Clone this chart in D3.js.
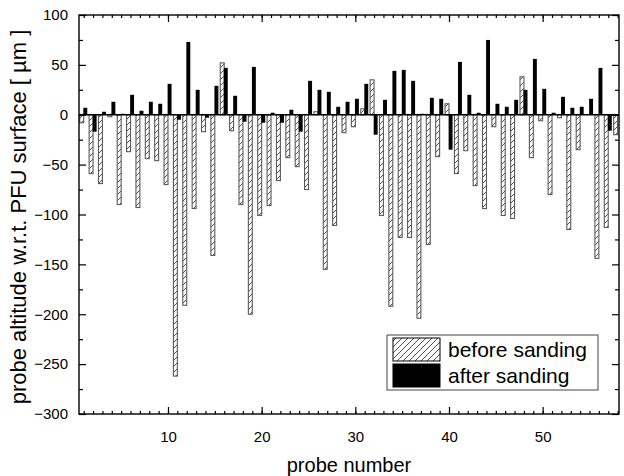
<!DOCTYPE html>
<html>
<head>
<meta charset="utf-8">
<script src="https://cdn.jsdelivr.net/npm/d3@7"></script>
<style>
  body { margin: 0; background: #fff; }
  svg { display: block; font-family: "Liberation Sans", Arial, sans-serif; }
  .tick text { font-size: 15px; fill: #000; }
  .axis line { stroke: #000; stroke-width: 1.2; }
</style>
</head>
<body>
<svg id="chart" width="624" height="476"></svg>
<script>
// probe altitude before / after sanding, probes 1..58 (null = no bar)
const beforeSanding = [-8, -59, -69, -2, -90, -37, -93, -44, -46, -70, -262, -191, -94, -17, -141, 52,
  -16, -90, -200, -101, -91, -66, -43, -52, -75, 3, -155, -111, -18, -12, 6, 35, -101, -192, -123,
  -123, -204, -130, -42, 11, -59, -36, -71, -94, -12, -101, -104, 38, -43, -6, -80, -3, -115, -35,
  null, -144, -113, -20];
const afterSanding = [7, -17, 3, 13, 1, 20, 4, 13, 11, 31, -5, 73, 25, -3, 29, 47, 19, -7, 48, -8, 2,
  -8, 5, -17, 34, 25, 23, 8, 13, 16, 31, -20, 15, 44, 45, 34, 1, 17, 16, -35, 53, 20, 2, 75, 11, 8,
  15, 25, 56, 26, 2, 18, 7, 8, 16, 47, -16, null];
const xTicks = [10, 20, 30, 40, 50];
const yTicks = [-300, -250, -200, -150, -100, -50, 0, 50, 100];
const yMinorTicks = [-275, -225, -175, -125, -75, -25, 25, 75];
const legendLabels = ["before sanding", "after sanding"];

const svg = d3.select("#chart");
const plotLeft = 79, plotRight = 619, plotTop = 15, plotBottom = 414;

const x = d3.scaleLinear().domain([0.5, 58.15]).range([plotLeft, plotRight]);
const y = d3.scaleLinear().domain([-300, 100]).range([plotBottom, plotTop]);
const step = x(2) - x(1);
const barW = step * 0.42;

const defs = svg.append("defs");
const hatch = defs.append("pattern")
  .attr("id", "hatch")
  .attr("patternUnits", "userSpaceOnUse")
  .attr("width", 6)
  .attr("height", 6);
hatch.append("rect").attr("width", 6).attr("height", 6).attr("fill", "#fff");
hatch.append("path")
  .attr("d", "M-1,1 L1,-1 M0,6 L6,0 M5,7 L7,5")
  .attr("stroke", "#222")
  .attr("stroke-width", 0.8);

const probes = beforeSanding.map((v, i) => ({ probe: i + 1, before: v, after: afterSanding[i] }));

// hatched bars (before)
svg.append("g")
  .selectAll("rect")
  .data(probes.filter((d) => d.before !== null))
  .join("rect")
  .attr("x", (d) => x(d.probe) - barW)
  .attr("width", barW)
  .attr("y", (d) => y(Math.max(0, d.before)))
  .attr("height", (d) => Math.abs(y(d.before) - y(0)))
  .attr("fill", "url(#hatch)")
  .attr("stroke", "#5a5a5a")
  .attr("stroke-width", 1.1);

// black bars (after)
svg.append("g")
  .selectAll("rect")
  .data(probes.filter((d) => d.after !== null))
  .join("rect")
  .attr("x", (d) => x(d.probe) - step * 0.04)
  .attr("width", barW)
  .attr("y", (d) => y(Math.max(0, d.after)))
  .attr("height", (d) => Math.abs(y(d.after) - y(0)))
  .attr("fill", "#000");

// zero line
svg.append("line")
  .attr("x1", plotLeft).attr("x2", plotRight)
  .attr("y1", y(0)).attr("y2", y(0))
  .attr("stroke", "#000")
  .attr("stroke-width", 1.3);

// axes, ticks pointing inward
const xMinor = d3.range(1, 59);
function addAxis(axis, transform, labels) {
  const g = svg.append("g").attr("class", "axis").attr("transform", transform).call(axis);
  g.select(".domain").remove();
  if (!labels) g.selectAll("text").remove();
  return g;
}
addAxis(d3.axisBottom(x).tickValues(xMinor).tickSizeInner(-3).tickSizeOuter(0), `translate(0,${plotBottom})`, false);
addAxis(d3.axisBottom(x).tickValues(xTicks).tickSizeInner(-7).tickSizeOuter(0).tickPadding(17), `translate(0,${plotBottom})`, true);
addAxis(d3.axisTop(x).tickValues(xMinor).tickSizeInner(-3).tickSizeOuter(0), `translate(0,${plotTop})`, false);
addAxis(d3.axisTop(x).tickValues(xTicks).tickSizeInner(-7).tickSizeOuter(0), `translate(0,${plotTop})`, false);
addAxis(d3.axisLeft(y).tickValues(yTicks).tickSizeInner(-7).tickSizeOuter(0).tickPadding(11), `translate(${plotLeft},0)`, true);
addAxis(d3.axisLeft(y).tickValues(yMinorTicks).tickSizeInner(-4).tickSizeOuter(0), `translate(${plotLeft},0)`, false);
addAxis(d3.axisRight(y).tickValues(yTicks).tickSizeInner(-7).tickSizeOuter(0), `translate(${plotRight},0)`, false);
addAxis(d3.axisRight(y).tickValues(yMinorTicks).tickSizeInner(-4).tickSizeOuter(0), `translate(${plotRight},0)`, false);

svg.append("rect")
  .attr("x", plotLeft).attr("y", plotTop)
  .attr("width", plotRight - plotLeft).attr("height", plotBottom - plotTop)
  .attr("fill", "none")
  .attr("stroke", "#000")
  .attr("stroke-width", 1.4);

// axis titles
svg.append("text")
  .attr("x", (plotLeft + plotRight) / 2)
  .attr("y", 472)
  .attr("text-anchor", "middle")
  .attr("font-size", 20)
  .text("probe number");

svg.append("text")
  .attr("transform", "translate(26,217) rotate(-90)")
  .attr("text-anchor", "middle")
  .attr("font-size", 22)
  .text("probe altitude w.r.t. PFU surface [ µm ]");

// legend
const legend = svg.append("g").attr("transform", "translate(387,335)");
legend.append("rect")
  .attr("width", 211).attr("height", 55)
  .attr("fill", "#fff")
  .attr("stroke", "#444")
  .attr("stroke-width", 1);
legend.selectAll("rect.swatch")
  .data(legendLabels)
  .join("rect")
  .attr("class", "swatch")
  .attr("x", 6)
  .attr("y", (_, i) => 3 + i * 26)
  .attr("width", 47)
  .attr("height", 23)
  .attr("fill", (_, i) => (i === 0 ? "url(#hatch)" : "#000"))
  .attr("stroke", "#000")
  .attr("stroke-width", 1);
legend.selectAll("text")
  .data(legendLabels)
  .join("text")
  .attr("x", 61)
  .attr("y", (_, i) => 22 + i * 26)
  .attr("font-size", 21)
  .text((d) => d);
</script>
</body>
</html>
